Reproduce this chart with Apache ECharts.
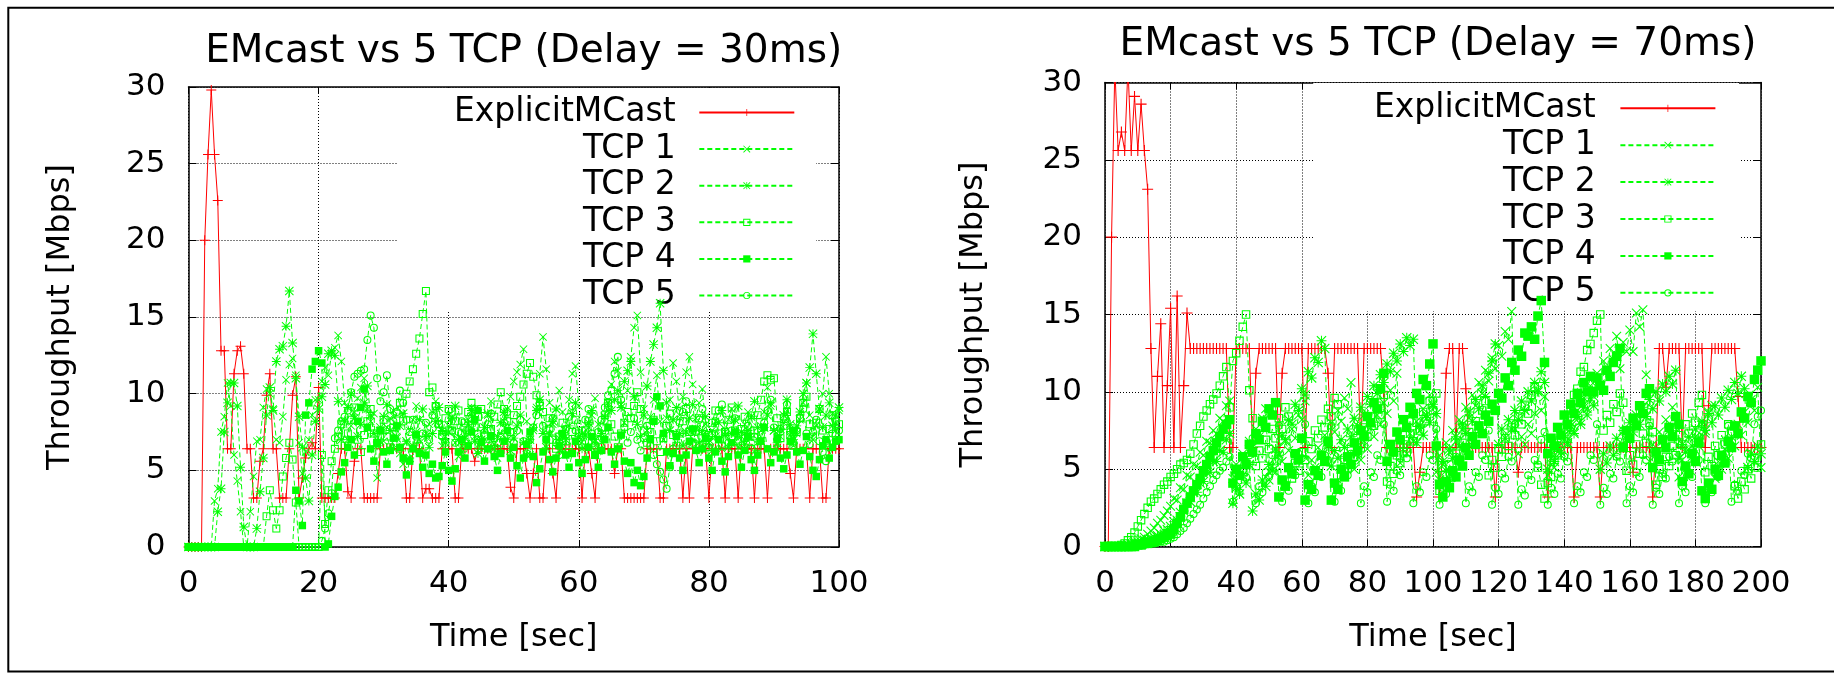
<!DOCTYPE html>
<html>
<head>
<meta charset="utf-8">
<title>EMcast vs 5 TCP</title>
<script src="https://cdn.jsdelivr.net/npm/echarts/dist/echarts.min.js"></script>
<style>
  html, body { margin: 0; padding: 0; background: #fff; }
  #chart { width: 1834px; height: 674px; }
</style>
</head>
<body>
<div id="chart"></div>
<script>
// 左图: 延迟 30ms, 每 0.5 s 一个采样 (t = 0 .. 100)
const STEP_L = 0.5;
const emcastL = [
  0,0,0,0,0, 20,25.6,29.8,25.6,22.6, 12.8,12.8,6.4,6.4,11.3, 12.8,13.1,11.3,6.4,6.4,
  3.2,3.2,5.6,6.4,9.9, 11.3,6.4,6.4,3.2,3.2, 3.2,6.4,9.9,11.1,3.2, 4.5,5.8,6.4,6.8,6.4,
  10.4,3.2,3.2,3.2,3.2, 3.2,4.8,6.4,6.4,3.6, 3.2,5.6,6.4,6.4,3.2, 3.2,3.2,3.2,3.2,6.4,
  6.4,6.4,6.4,6.4,6.4, 6.4,6.4,3.2,3.2,6.4, 6.4,6.4,3.2,3.8,3.8, 3.2,3.2,3.2,6.4,6.4,
  6.4,6.4,3.2,3.2,6.4, 6.4,6.4,6.4,5.6,6.4, 6.4,6.4,6.4,6.4,6.4, 6.4,6.4,6.4,6.4,3.9,
  3.2,6.4,6.4,6.4,4.8, 3.2,4.8,6.4,3.2,3.2, 6.4,6.4,4.8,3.2,6.4, 6.4,6.4,6.4,6.4,6.4,
  6.4,3.2,6.4,6.4,4.8, 3.2,6.4,6.4,6.4,6.4, 6.4,4.8,6.4,6.4,3.2, 3.2,3.2,3.2,3.2,3.2,
  3.2,6.4,6.4,6.4,6.4, 3.2,3.2,6.4,6.4,6.4, 6.4,6.4,3.2,6.4,3.2, 6.4,6.4,6.4,6.4,6.4,
  3.2,6.4,6.4,6.4,6.4, 3.2,6.4,6.4,6.4,3.2, 6.4,6.4,6.4,6.4,3.2, 6.4,6.4,6.4,3.2,6.4,
  6.4,6.4,6.4,6.4,6.4, 4.8,3.2,6.4,6.4,6.4, 6.4,3.2,6.4,6.4,6.4, 3.2,3.2,6.4,6.4,6.4,
  6.4
];
const tcp1L = [
  0,0,0,0,0, 0,0,0,3.0,3.8, 7.5,8.5,10.7,9.2,6.0, 4.3,2.3,0,0,2.3,
  4.6,6.9,7.0,9.1,10.3, 10.0,9.0,7.0,6.8,8.5, 10.9,11.9,12.3,11.2,6.8, 4.8,6.2,7.0,8.6,9.6,
  9.6,10.8,11.7,11.2,12.6, 13.0,13.8,12.1,9.4,7.0, 7.9,8.8,9.7,10.4,11.0, 9.0,8.2,8.7,4.5,6.9,
  6.9,7.8,8.4,8.9,7.2, 6.1,5.4,6.8,7.6,8.3, 9.2,7.0,6.2,7.4,8.0, 8.8,9.5,7.9,6.6,7.2,
  7.9,8.5,6.8,5.9,6.6, 7.4,8.3,9.1,7.2,6.3, 7.0,7.8,8.6,9.5,6.7, 5.8,7.4,8.2,9.0,9.8,
  10.8,11.4,11.9,12.9,8.2, 6.0,7.6,9.1,11.3,13.7, 11.6,9.4,8.0,9.0,10.2, 8.8,7.2,9.6,11.3,11.8,
  9.2,7.4,6.6,7.8,8.6, 9.7,8.0,6.8,7.2,8.9, 10.6,12.1,11.5,9.3,8.1, 10.2,12.4,14.3,15.1,11.4,
  9.0,7.6,8.5,9.6,11.2, 8.2,7.0,8.4,9.6,12.0, 10.8,8.6,9.8,11.4,12.4, 10.6,8.4,9.4,10.3,8.0,
  6.8,7.6,8.2,7.0,6.4, 7.5,8.3,9.0,7.4,6.5, 7.2,8.0,8.8,7.1,6.2, 7.0,7.9,8.8,10.4,9.2,
  7.6,6.4,7.2,8.1,8.9, 7.3,6.6,7.4,8.3,9.4, 10.7,8.6,7.0,7.9,9.0, 10.0,12.4,10.0,8.7,7.6,
  8.9
];
const tcp2L = [
  0,0,0,0,0, 0,0,0,0,2.3, 3.8,7.5,9.4,10.7,10.7, 9.2,5.2,1.3,0,0,
  0,1.2,3.6,5.8,8.6, 10.4,8.9,12.1,12.9,13.1, 14.4,16.7,13.3,11.0,8.5, 6.5,4.5,3.0,6.0,8.2,
  9.0,9.8,10.6,12.6,12.8, 12.5,9.5,7.0,8.2,9.1, 10.0,8.4,7.2,8.0,9.4, 10.5,8.6,7.4,6.6,7.8,
  8.5,9.3,7.6,6.4,7.1, 7.9,8.7,6.9,5.8,6.6, 7.5,8.3,9.0,7.2,6.5, 7.4,8.2,9.1,7.6,6.8,
  7.5,8.4,9.2,7.0,6.2, 7.1,8.0,8.9,6.9,6.1, 7.0,7.8,8.7,7.3,6.4, 7.2,8.1,8.8,7.0,6.3,
  7.1,7.9,8.6,6.8,6.0, 7.0,7.8,8.9,9.6,7.4, 6.5,7.3,8.2,9.0,7.1, 6.2,7.0,7.9,8.7,9.4,
  7.2,6.4,7.3,8.1,8.9, 7.0,6.3,7.4,8.5,9.4, 8.9,9.6,10.2,9.1,10.8, 11.5,12.1,9.8,8.0,7.2,
  8.6,10.5,12.1,13.2,14.3, 15.9,11.5,9.4,7.6,8.3, 9.1,7.4,6.6,7.5,8.4, 9.3,7.7,6.8,7.6,8.5,
  7.0,6.3,7.2,8.1,8.9, 7.3,6.5,7.4,8.3,9.2, 7.5,6.7,7.6,8.5,9.5, 7.8,6.9,7.8,8.6,9.4,
  7.6,6.8,7.7,8.6,9.6, 8.0,7.0,7.9,8.8,10.0, 10.7,11.7,13.9,11.3,9.0, 7.8,8.6,9.4,7.9,8.6,
  9.1
];
const tcp3L = [
  0,0,0,0,0, 0,0,0,0,0, 0,0,0,0,0, 0,0,0,0,0,
  0,0,0,0,2.0, 3.7,2.4,1.2,2.4,4.6, 5.8,6.8,5.7,2.9,0, 0,0,0,0,0,
  0,6.0,1.5,3.7,5.6, 6.4,7.2,8.0,6.6,7.4, 8.3,9.1,7.0,6.2,7.3, 8.2,9.0,7.4,6.8,7.6,
  8.3,7.2,6.5,7.8,8.7, 9.4,8.2,10.0,10.8,11.6, 12.6,13.6,15.2,16.7,10.1, 10.4,9.2,8.0,7.3,8.4,
  9.0,7.6,8.2,8.9,7.4, 8.1,8.8,9.4,7.8,8.5, 9.0,7.2,6.6,7.7,8.5, 9.3,10.1,9.0,8.2,7.5,
  8.6,9.2,9.8,10.6,11.3, 12.0,11.1,9.9,9.2,8.8, 7.6,8.4,7.0,6.4,7.2, 8.1,6.9,6.2,7.5,8.3,
  7.4,6.7,7.6,8.2,6.8, 6.0,7.0,7.8,8.6,9.4, 8.0,7.2,6.5,7.4,8.1, 8.8,8.4,9.2,10.1,9.0,
  7.6,6.8,7.5,8.3,6.9, 6.2,7.1,7.9,8.7,7.3, 6.6,7.4,8.2,9.0,7.5, 6.7,7.6,8.4,7.1,6.5,
  7.3,8.1,8.9,7.4,6.6, 7.5,8.3,9.1,7.6,6.9, 7.7,8.5,7.2,6.4,7.6, 8.6,9.6,10.8,11.2,10.9,
  11.0,8.4,7.1,7.9,8.8, 7.3,6.6,7.5,8.4,9.4, 9.8,8.0,7.2,8.1,9.0, 7.6,6.8,7.7,8.6,7.4,
  8.0
];
const tcp4L = [
  0,0,0,0,0, 0,0,0,0,0, 0,0,0,0,0, 0,0,0,0,0,
  0,0,0,0,0, 0,0,0,0,0, 0,0,0,3.7,3.0, 1.4,8.6,9.4,11.6,12.1,
  12.8,12.0,0,0.2,2.0, 3.3,3.9,4.9,5.5,6.5, 7.0,6.0,8.2,9.1,10.3, 7.8,6.4,5.6,6.8,7.6,
  6.2,5.4,6.3,7.1,7.9, 6.5,5.8,4.7,5.6,6.4, 7.3,6.1,5.2,6.0,4.8, 5.4,4.5,4.6,5.3,6.2,
  5.0,4.3,5.1,6.2,7.0, 5.8,6.6,7.5,8.3,8.9, 6.8,5.6,6.4,7.2,5.9, 5.0,6.1,6.9,7.6,5.8,
  6.5,5.3,4.5,5.8,6.7, 7.5,5.9,4.2,5.1,6.2, 7.0,5.7,4.9,5.8,6.6, 7.4,6.0,5.2,6.1,6.9,
  5.5,4.8,5.7,6.5,7.2, 6.0,5.2,6.3,7.0,7.8, 6.2,5.4,6.4,7.3,5.6, 4.8,5.5,4.2,5.0,4.0,
  4.6,5.8,7.0,8.2,9.8, 9.2,7.4,6.2,5.3,6.1, 7.2,5.8,5.0,6.0,6.9, 7.7,6.3,5.5,6.4,7.1,
  5.8,5.0,6.2,7.0,5.6, 4.9,5.9,6.8,7.5,6.0, 5.2,6.3,7.2,5.7,5.0, 6.0,6.9,7.8,6.4,5.5,
  6.2,7.1,5.8,5.1,6.0, 6.9,7.6,6.2,5.4,6.3, 7.2,5.9,5.0,4.6,5.7, 6.6,7.0,5.8,6.5,6.9,
  7.0
];
const tcp5L = [
  0,0,0,0,0, 0,0,0,0,0, 0,0,0,0,0, 0,0,0,0,0,
  0,0,0,0,0, 0,0,0,0,0, 0,0,0,0,0, 0,0,0,0,0,
  0,0.4,1.2,2.2,3.5, 7.1,7.6,8.2,8.5,8.9, 10.1,11.1,11.3,11.5,11.6, 13.5,15.1,14.3,11.0,9.5,
  10.1,11.2,9.0,8.2,8.8, 10.2,9.4,8.3,7.5,8.3, 7.2,6.6,7.4,8.1,7.0, 8.6,9.2,8.0,7.2,6.8,
  8.9,7.6,6.8,7.5,8.2, 6.9,7.6,8.4,9.0,7.4, 6.6,7.3,8.0,8.7,7.1, 6.4,7.2,8.1,8.8,7.5,
  6.8,7.6,8.3,6.9,6.1, 7.0,7.8,8.6,9.4,7.9, 7.0,7.7,8.4,6.8,6.0, 6.9,7.7,8.5,9.2,7.6,
  6.9,7.6,8.3,9.0,7.4, 6.6,7.5,8.3,9.1,9.9, 10.2,11.3,12.4,9.6,7.8, 6.8,7.5,8.4,7.0,6.3,
  7.1,7.9,6.6,6.0,5.4, 4.9,4.4,3.8,5.2,6.4, 7.3,8.1,8.8,9.5,7.6, 6.8,7.5,8.3,9.0,7.2,
  6.5,7.4,8.2,8.9,9.3, 7.6,6.8,7.6,8.4,7.0, 6.3,7.1,7.9,8.6,7.2, 6.5,7.3,8.1,8.9,9.6,
  7.8,7.0,7.7,8.5,9.3, 7.5,6.8,7.6,8.4,9.0, 7.4,6.7,7.5,8.3,6.9, 6.2,5.6,6.5,7.4,8.2,
  7.6
];

// 右图: 延迟 70ms, 每 1 s 一个采样 (t = 0 .. 200)
const STEP_R = 1;
const emcastR = [
  0,0,20,31,25.6,26.8,25.6,31,25.6,29.1,
  25.6,28.6,25.6,23.1,12.8,6.4,11.0,14.4,6.4,10.4,
  15.4,6.4,16.2,6.4,10.4,15.1,12.8,12.8,12.8,12.8,
  12.8,12.8,12.8,12.8,12.8,12.8,12.8,12.8,6.4,6.4,
  12.8,12.8,12.8,12.8,12.8,6.4,11.2,12.8,12.8,12.8,
  12.8,12.8,12.8,6.4,11.2,12.8,12.8,12.8,12.8,12.8,
  12.8,6.4,12.8,12.8,12.8,12.8,12.8,12.8,11.2,6.4,
  12.8,12.8,12.8,12.8,12.8,12.8,12.8,12.8,6.4,12.8,
  12.8,12.8,12.8,12.8,12.8,10.0,6.4,6.4,6.4,6.4,
  6.4,6.4,6.4,6.4,6.4,3.2,4.8,6.4,6.4,6.4,
  6.4,6.4,3.2,6.4,11.2,12.8,12.8,6.4,12.8,12.8,
  10.2,6.4,6.4,6.4,6.4,6.4,6.4,6.4,6.4,3.2,
  6.4,6.4,6.4,6.4,6.4,6.4,4.8,6.4,6.4,6.4,
  6.4,6.4,6.4,6.4,6.4,3.2,6.4,6.4,6.4,6.4,
  6.4,6.4,6.4,3.2,6.4,6.4,6.4,6.4,6.4,6.4,
  6.4,3.2,6.4,6.4,6.4,6.4,6.4,6.4,6.4,6.4,
  6.4,4.8,6.4,6.4,6.4,6.4,6.4,3.2,6.4,12.8,
  12.8,10.3,12.8,12.8,12.8,12.8,6.4,12.8,12.8,12.8,
  12.8,12.8,12.8,6.4,9.1,12.8,12.8,12.8,12.8,12.8,
  12.8,12.8,12.8,9.7,6.4,6.4,6.4,6.4,6.4,6.4,
  6.4
];
const tcp1R = [
  0,0,0,0,0,0,0.1,0.1,0.2,0.3,
  0.3,0.5,0.6,0.8,1.0,1.2,1.5,1.7,2.0,2.3,
  2.6,3.1,3.0,3.8,3.7,4.6,4.5,5.3,5.2,6.1,
  5.9,6.8,6.7,7.5,7.3,8.3,8.1,9.1,9.4,4.4,
  5.3,4.9,6.0,5.7,6.8,6.4,7.6,7.1,8.3,8.9,
  4.3,5.2,4.8,6.0,5.5,6.8,6.2,7.6,7.0,8.5,
  8.2,9.4,4.6,5.6,5.1,6.4,5.8,7.2,6.6,8.0,
  7.4,8.8,8.1,9.6,8.9,10.6,5.0,6.0,5.6,6.8,
  6.3,7.7,7.1,8.5,7.9,9.3,8.6,10.1,9.4,11.2,
  5.4,6.5,6.0,7.3,6.8,8.1,7.5,8.9,8.3,9.8,
  9.1,4.8,5.9,5.3,6.7,6.1,7.5,6.8,8.2,7.6,
  9.0,8.3,9.8,9.1,10.6,9.9,11.4,10.7,12.2,11.5,
  13.0,12.3,13.9,13.4,15.2,7.6,6.0,7.1,6.6,7.9,
  7.3,8.6,10.1,8.8,9.7,4.6,5.7,5.1,6.4,5.9,
  7.2,6.6,8.0,7.4,8.8,8.1,9.6,8.9,10.4,9.7,
  11.2,10.5,12.0,11.3,12.8,12.1,13.6,11.5,13.2,12.6,
  14.0,12.6,15.1,14.2,15.3,11.1,5.5,6.6,6.1,7.4,
  6.8,8.2,7.5,9.0,8.4,4.5,5.6,5.0,6.3,5.8,
  7.1,6.5,7.9,7.3,8.7,9.1,4.4,5.5,5.0,6.3,
  5.7,7.1,6.5,7.9,7.2,8.7,8.0,9.5,8.8,10.3,
  5.1
];
const tcp2R = [
  0,0,0,0,0,0,0,0.1,0.1,0.2,
  0.2,0.3,0.4,0.4,0.5,0.6,0.7,0.8,1.0,1.1,
  1.3,1.6,1.7,2.2,2.3,2.8,2.9,3.5,3.5,4.1,
  4.2,4.8,4.8,5.5,5.5,6.2,6.1,6.9,7.3,2.8,
  3.8,3.4,4.6,4.1,5.3,2.3,3.4,3.0,4.3,3.9,
  5.3,4.9,6.3,5.9,7.2,6.9,8.2,7.9,9.2,8.8,
  10.2,9.8,11.3,10.9,12.2,11.9,13.3,12.8,6.5,5.2,
  6.2,5.7,6.9,6.4,7.6,7.1,8.3,7.8,9.0,8.5,
  9.7,9.2,10.4,9.9,11.1,10.6,11.8,11.3,12.5,12.0,
  13.1,12.6,13.5,13.0,13.4,6.7,7.8,7.2,8.5,8.0,
  9.2,8.6,4.3,5.5,4.9,6.3,5.7,7.1,6.5,7.9,
  7.3,8.7,8.1,9.5,8.9,10.4,9.7,11.2,12.0,13.1,
  6.6,7.6,7.0,8.2,7.6,8.8,8.2,9.4,8.8,10.0,
  9.4,10.6,10.0,11.3,10.6,5.0,6.0,5.5,6.6,6.1,
  7.2,6.7,7.8,7.3,8.4,7.9,9.0,8.5,9.6,9.1,
  10.3,5.0,6.0,5.4,6.5,5.9,7.0,6.4,7.5,6.9,
  8.0,7.4,8.5,7.9,9.0,8.4,9.5,8.9,10.0,9.4,
  10.5,10.0,11.0,10.5,11.4,5.7,6.6,6.1,7.1,6.5,
  7.6,7.0,8.1,7.5,8.6,8.0,9.1,8.5,9.6,9.0,
  10.1,9.5,10.6,9.9,11.0,10.2,5.1,6.0,5.5,6.5,
  6.0
];
const tcp3R = [
  0,0,0,0,0,0.1,0.2,0.4,0.6,0.9,
  1.3,1.7,2.1,2.5,2.9,3.1,3.4,3.7,4.0,4.2,
  4.5,4.7,5.0,5.3,5.4,5.6,6.0,6.6,7.3,7.8,
  8.4,8.8,9.2,9.5,9.9,10.4,11.0,11.6,9.0,12.0,
  12.5,13.3,14.2,15.0,10.1,8.3,5.2,6.2,5.7,6.9,
  6.3,7.6,7.0,8.3,7.6,9.0,8.4,4.4,5.4,4.9,
  6.1,5.6,6.8,6.3,7.5,7.0,8.2,7.7,8.9,8.4,
  9.6,9.2,4.6,5.6,5.1,6.3,5.8,7.0,6.4,7.7,
  7.1,8.4,7.8,9.1,8.5,9.8,4.2,5.2,4.7,5.9,
  5.4,6.6,6.1,7.3,6.8,8.0,7.5,8.7,8.1,9.4,
  8.8,9.9,3.6,4.6,4.1,5.3,4.8,6.0,5.5,6.7,
  6.2,7.4,6.9,8.1,7.6,8.8,9.4,4.6,5.6,5.1,
  6.3,5.8,7.0,6.5,7.7,7.2,8.4,7.9,9.1,8.6,
  9.8,10.3,5.1,4.0,3.1,4.1,4.5,5.6,5.9,7.0,
  7.3,8.4,8.8,9.8,10.2,11.3,11.6,12.7,13.1,13.8,
  14.6,15.0,7.5,8.5,8.0,9.2,8.7,9.9,9.3,4.9,
  5.9,5.3,6.6,6.0,7.3,6.7,8.0,7.4,4.0,5.0,
  4.5,5.8,5.2,6.5,5.9,7.2,6.6,7.9,7.3,8.6,
  8.0,9.3,9.8,4.8,5.8,5.2,6.5,5.9,7.2,6.6,
  7.9,7.3,3.9,3.1,4.2,3.7,5.0,4.4,5.7,5.1,
  6.6
];
const tcp4R = [
  0,0,0,0,0,0,0,0,0,0,
  0.1,0.1,0.2,0.2,0.3,0.3,0.4,0.5,0.6,0.7,
  0.8,1.1,1.5,1.9,2.4,2.8,3.2,3.6,4.0,4.4,
  4.9,5.3,5.8,6.2,6.7,7.1,7.6,7.9,8.2,4.1,
  5.0,4.6,5.8,5.3,6.6,6.1,7.3,6.9,8.1,7.7,
  8.9,8.5,9.3,3.2,4.3,3.9,5.1,4.7,6.0,5.6,
  7.0,3.0,4.0,3.7,4.9,4.6,5.9,5.5,6.8,3.0,
  4.1,3.7,5.0,4.5,5.8,5.3,6.7,6.2,7.5,7.1,
  8.4,8.0,9.3,8.9,10.2,11.2,5.5,6.6,6.1,7.4,
  6.9,8.2,7.7,9.0,8.6,9.9,9.5,10.8,10.4,11.8,
  13.1,6.5,4.0,3.2,4.2,3.8,4.9,4.5,5.6,5.2,
  6.4,5.9,7.1,6.6,7.8,7.3,8.5,8.1,9.2,8.8,
  9.9,9.6,10.9,10.4,11.9,11.4,12.7,12.3,13.8,13.6,
  14.2,13.4,14.9,15.9,11.9,6.0,7.0,6.5,7.7,7.2,
  8.5,7.9,9.2,8.6,9.9,9.3,10.6,10.0,11.0,10.0,
  10.9,10.4,10.1,11.4,11.0,11.9,12.3,12.8,6.4,7.5,
  7.0,8.3,7.8,9.1,8.6,9.9,10.2,5.1,6.1,5.6,
  6.9,6.4,7.7,7.1,8.4,7.9,4.2,5.2,4.7,6.0,
  5.5,6.7,3.6,3.1,4.1,3.7,5.0,4.6,5.9,5.4,
  6.8,6.4,7.8,7.3,8.7,8.3,9.7,9.3,10.8,11.4,
  12.0
];
const tcp5R = [
  0,0,0,0,0,0,0,0,0,0.1,
  0.1,0.1,0.1,0.2,0.2,0.2,0.3,0.3,0.3,0.4,
  0.5,0.6,0.8,1.0,1.2,1.5,1.8,2.1,2.4,2.7,
  3.1,3.5,3.9,4.3,4.6,4.9,5.1,5.5,5.8,2.9,
  3.9,3.5,4.9,4.5,5.9,7.0,2.8,3.9,3.5,4.8,
  4.5,5.9,5.5,7.8,2.9,4.0,3.6,4.9,4.6,6.0,
  5.7,7.9,2.8,3.9,3.5,4.8,4.5,5.9,5.6,7.8,
  2.9,4.0,3.6,4.9,4.6,6.0,5.7,7.6,2.8,3.9,
  3.5,4.8,4.5,5.9,5.6,7.9,2.9,4.0,3.6,4.9,
  4.6,6.0,5.7,8.1,2.8,3.9,3.5,4.8,4.5,5.9,
  5.6,7.6,2.7,3.8,3.4,4.7,4.4,5.8,5.5,7.8,
  2.8,3.9,3.5,4.8,4.5,5.9,5.6,7.5,2.7,3.8,
  3.4,4.7,4.4,5.8,5.5,7.9,2.7,3.7,3.3,4.6,
  4.3,5.6,5.3,6.9,7.4,2.7,3.8,3.4,4.7,4.4,
  5.8,5.5,7.7,2.8,3.9,3.5,4.8,4.5,5.9,5.6,
  7.9,2.7,3.8,3.4,4.7,4.4,5.8,5.5,7.5,2.8,
  3.9,3.5,4.8,4.5,5.9,5.6,7.8,2.7,3.8,3.4,
  4.7,4.4,5.8,5.5,7.7,2.8,3.9,3.5,4.8,4.5,
  5.9,5.6,7.9,2.8,3.9,3.5,4.8,4.5,5.9,5.6,
  7.8,2.9,4.0,3.6,4.9,4.6,6.0,5.7,7.9,8.4,
  8.8
];

const seriesNames = ['ExplicitMCast', 'TCP 1', 'TCP 2', 'TCP 3', 'TCP 4', 'TCP 5'];
const titles = ['EMcast vs 5 TCP (Delay = 30ms)', 'EMcast vs 5 TCP (Delay = 70ms)'];

const FONT = 'DejaVu Sans';
const RED = '#ff0000';
const GREEN = '#00ff00';

// gnuplot 风格的点型: +, x, *, 空心方块, 实心方块, 空心圆
const SYM_PLUS = 'path://M4.5,0H5.5V4.5H10V5.5H5.5V10H4.5V5.5H0V4.5H4.5Z';
const SYM_X = 'path://M0,0.8L0.8,0L5,4.2L9.2,0L10,0.8L5.8,5L10,9.2L9.2,10L5,5.8L0.8,10L0,9.2L4.2,5Z';
const SYM_STAR = 'path://M4.5,0H5.5V10H4.5Z M0,4.5H10V5.5H0Z M0,0.8L0.8,0L10,9.2L9.2,10Z M9.2,0L10,0.8L0.8,10L0,9.2Z';
const SYM_BOX = 'path://M0,0H10V10H0Z M1.3,1.3V8.7H8.7V1.3Z';
const SYM_RING = 'path://M5,0A5,5,0,1,1,5,10A5,5,0,1,1,5,0Z M5,1.3A3.7,3.7,0,1,0,5,8.7A3.7,3.7,0,1,0,5,1.3Z';

const symbols = [SYM_PLUS, SYM_X, SYM_STAR, SYM_BOX, 'rect', SYM_RING];
const colors = [RED, GREEN, GREEN, GREEN, GREEN, GREEN];
const dashes = ['solid', [5, 3], [5, 3], [5, 3], [5, 3], [5, 3]];

// 两个子图的布局 (像素); 右图的点型比左图略大
const panels = [
  {
    step: STEP_L, xMax: 100,
    values: [emcastL, tcp1L, tcp2L, tcp3L, tcp4L, tcp5L],
    sizes: [10, 8, 9, 8, 7.5, 8],
    grid: {left: 188.5, top: 87, width: 650.5, height: 460},
    xLabelMargin: 21, xNameGap: 75, yNameGap: 112,
    legend: {right: 1018, top: 88, itemGap: 3.6, padding: [8, 20.7, 0, 56.7], textPad: 18.6},
    title: {x: 523.7, y: 51.6}
  },
  {
    step: STEP_R, xMax: 200,
    values: [emcastR, tcp1R, tcp2R, tcp3R, tcp4R, tcp5R],
    sizes: [11, 9.5, 10, 8.5, 9.5, 8],
    grid: {left: 1105, top: 82.5, width: 656, height: 464},
    xLabelMargin: 22, xNameGap: 75.5, yNameGap: 115,
    legend: {right: 95, top: 83, itemGap: 3.9, padding: [8.8, 22.6, 1.7, 60.7], textPad: 19.7},
    title: {x: 1438, y: 44.5}
  }
];

const black = {color: '#000', width: 1.5};
const dotted = {color: '#000', width: 1, type: [1, 2]};

const grids = [], xAxes = [], yAxes = [], series = [], legends = [];
const graphics = [{
  type: 'rect', silent: true, z: 0,
  shape: {x: 8.3, y: 7.7, width: 2000, height: 663.8},
  style: {fill: 'none', stroke: '#000', lineWidth: 2}
}];

panels.forEach((p, i) => {
  grids.push(Object.assign({containLabel: false}, p.grid));

  // 下方 x 轴 (带标签和网格), 上方 x 轴只画刻度
  xAxes.push({
    gridIndex: i, type: 'value', min: 0, max: p.xMax, interval: 20, position: 'bottom',
    axisLine: {show: true, onZero: false, lineStyle: black},
    axisTick: {show: true, inside: true, length: 7, lineStyle: {color: '#000', width: 1}},
    axisLabel: {margin: p.xLabelMargin, fontSize: 31, fontFamily: FONT, color: '#000'},
    splitLine: {show: true, lineStyle: dotted},
    name: 'Time [sec]', nameLocation: 'middle', nameGap: p.xNameGap,
    nameTextStyle: {fontSize: 32, fontFamily: FONT, color: '#000'}
  });
  xAxes.push({
    gridIndex: i, type: 'value', min: 0, max: p.xMax, interval: 20, position: 'top',
    axisLine: {show: true, onZero: false, lineStyle: black},
    axisTick: {show: true, inside: true, length: 7, lineStyle: {color: '#000', width: 1}},
    axisLabel: {show: false}, splitLine: {show: false}
  });
  yAxes.push({
    gridIndex: i, type: 'value', min: 0, max: 30, interval: 5, position: 'left',
    axisLine: {show: true, onZero: false, lineStyle: black},
    axisTick: {show: true, inside: true, length: 8, lineStyle: {color: '#000', width: 1}},
    axisLabel: {margin: 23, fontSize: 31, fontFamily: FONT, color: '#000'},
    splitLine: {show: true, lineStyle: dotted},
    name: 'Throughput [Mbps]', nameLocation: 'middle', nameGap: p.yNameGap,
    nameTextStyle: {fontSize: 32, fontFamily: FONT, color: '#000'}
  });
  yAxes.push({
    gridIndex: i, type: 'value', min: 0, max: 30, interval: 5, position: 'right',
    axisLine: {show: true, onZero: false, lineStyle: black},
    axisTick: {show: true, inside: true, length: 8, lineStyle: {color: '#000', width: 1}},
    axisLabel: {show: false}, splitLine: {show: false}
  });

  p.values.forEach((vals, k) => {
    series.push({
      type: 'line', name: seriesNames[k],
      xAxisIndex: i * 2, yAxisIndex: i * 2,
      data: vals.map((v, j) => [j * p.step, v]),
      symbol: symbols[k], symbolSize: p.sizes[k], showAllSymbol: true,
      lineStyle: {color: colors[k], width: 1, type: dashes[k]},
      itemStyle: {color: colors[k], borderWidth: 0},
      silent: true, z: 2
    });
  });

  // 图例: 白底盖住网格线, 但在数据线之下
  legends.push({
    data: seriesNames, orient: 'vertical', align: 'right',
    right: p.legend.right, top: p.legend.top,
    itemWidth: 95, itemHeight: 9, itemGap: p.legend.itemGap,
    padding: p.legend.padding, backgroundColor: '#fff', z: 1,
    selectedMode: false,
    textStyle: {fontFamily: FONT, fontSize: 33, color: '#000', padding: [0, p.legend.textPad, 0, 0]}
  });

  graphics.push({
    type: 'text', x: p.title.x, y: p.title.y, silent: true,
    style: {
      text: titles[i], fill: '#000', fontSize: 39, fontFamily: FONT,
      align: 'center', verticalAlign: 'middle'
    }
  });
});

const chart = echarts.init(document.getElementById('chart'));
chart.setOption({
  animation: false,
  backgroundColor: '#fff',
  grid: grids,
  xAxis: xAxes,
  yAxis: yAxes,
  legend: legends,
  graphic: graphics,
  series: series
});
</script>
</body>
</html>
